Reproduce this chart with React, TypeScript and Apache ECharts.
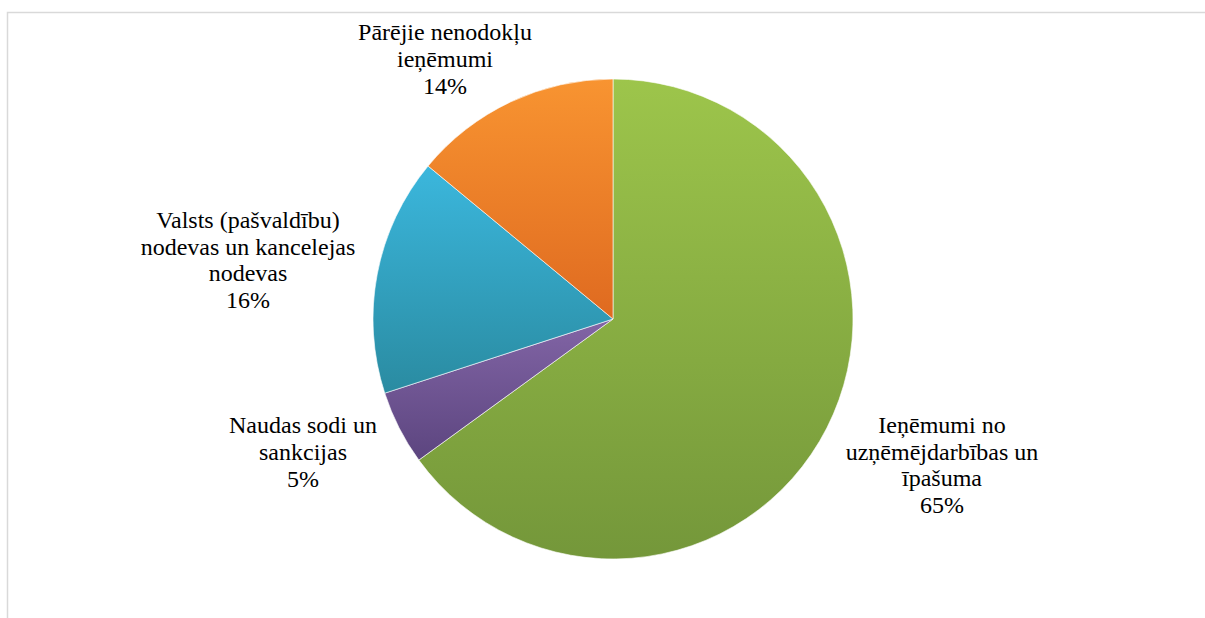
import React, { useEffect, useRef } from "react";
import * as echarts from "echarts";

const categories = [
  "Ieņēmumi no\nuzņēmējdarbības un\nīpašuma",
  "Naudas sodi un\nsankcijas",
  "Valsts (pašvaldību)\nnodevas un kancelejas\nnodevas",
  "Pārējie nenodokļu\nieņēmumi",
];
const values = [65, 5, 16, 14];
const colorTop = ["#9dc54b", "#8265a6", "#3bb7dd", "#f89431"];
const colorBottom = ["#74973a", "#5c457f", "#2a8ba1", "#df6a20"];
const labelPos: [number, number][] = [
  [942, 465],
  [303, 452],
  [248, 260],
  [445, 59],
];

const FONT = "'Liberation Serif', 'Times New Roman', serif";

export default function App() {
  const ref = useRef<HTMLDivElement>(null);
  useEffect(() => {
    if (!ref.current) return;
    const chart = echarts.init(ref.current, null, { renderer: "svg" });
    chart.setOption({
      animation: false,
      backgroundColor: "#ffffff",
      textStyle: { fontFamily: FONT },
      graphic: [
        {
          type: "rect",
          shape: { x: 7.5, y: 12.5, width: 1300, height: 700 },
          style: { fill: "none", stroke: "#d9d9d9", lineWidth: 1.5 },
          silent: true,
        },
      ],
      series: [
        {
          type: "pie",
          center: [613, 319],
          radius: 240,
          startAngle: 90,
          clockwise: true,
          data: values.map((v, i) => ({
            name: categories[i],
            value: v,
            itemStyle: {
              color: new echarts.graphic.LinearGradient(0, 0, 0, 1, [
                { offset: 0, color: colorTop[i] },
                { offset: 1, color: colorBottom[i] },
              ]),
            },
          })),
          itemStyle: { borderColor: "rgba(255,255,255,0.6)", borderWidth: 1 },
          label: {
            show: true,
            formatter: (p: any) => `${p.name}\n${p.value}%`,
            fontFamily: FONT,
            fontSize: 24,
            lineHeight: 26.7,
            color: "#000000",
            align: "center",
          },
          labelLine: { show: false },
          labelLayout: (p: any) => ({
            x: labelPos[p.dataIndex][0],
            y: labelPos[p.dataIndex][1],
            align: "center",
            verticalAlign: "middle",
          }),
        },
      ],
    });
    return () => chart.dispose();
  }, []);
  return (
    <div
      ref={ref}
      style={{ position: "fixed", left: 0, top: 0, width: 1205, height: 618 }}
    />
  );
}
